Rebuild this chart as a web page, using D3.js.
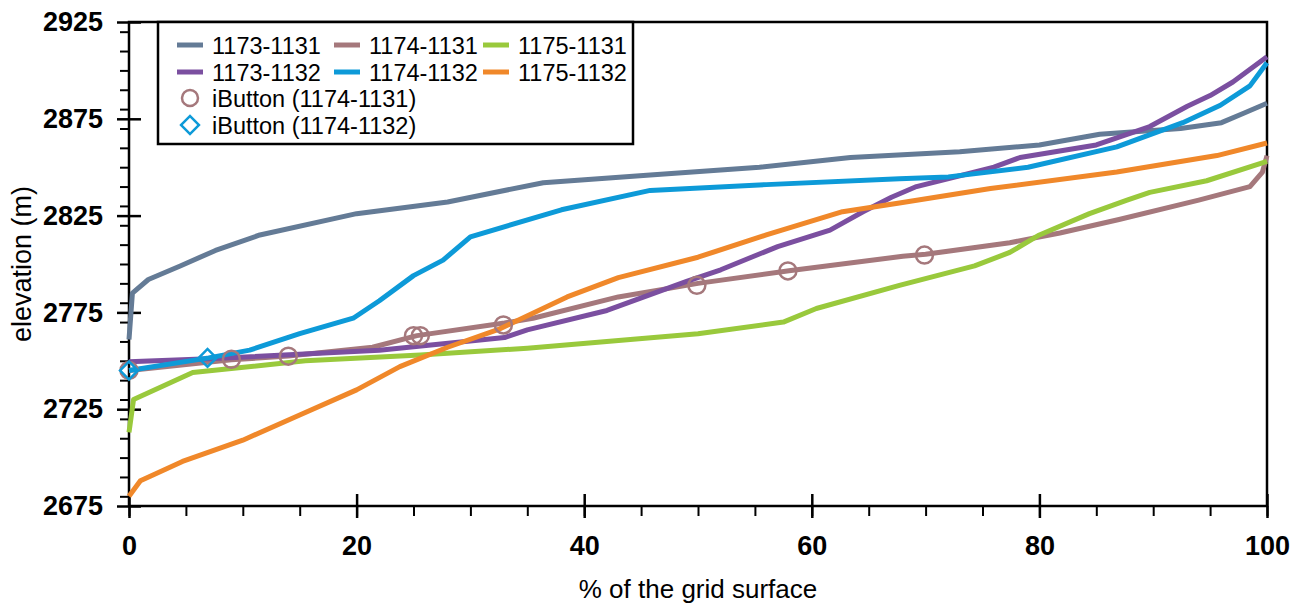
<!DOCTYPE html>
<html>
<head>
<meta charset="utf-8">
<script src="https://cdn.jsdelivr.net/npm/d3@7"></script>
<style>
  body { margin: 0; background: #fff; }
  svg { font-family: "Liberation Sans", Arial, sans-serif; }
</style>
</head>
<body>
<div id="chart"></div>
<script>
// hypsometric curves, % of grid surface vs elevation
var seriesNames = ["1173-1131", "1174-1131", "1175-1131", "1173-1132", "1174-1132", "1175-1132"];
var seriesColors = ["#647b96", "#a5787c", "#99c93c", "#7b4fa0", "#0d9ad8", "#f0882a"];

var s1173_1131 = [[0,2761],[0.3,2785],[1.7,2792],[4.5,2799],[7.6,2807],[11.5,2815],[20,2826],[28,2832],[36.4,2842],[45.8,2846],[55.4,2850],[63.4,2855],[73,2858],[80,2861.5],[85.3,2867],[92.4,2870],[96,2873],[98,2878],[100,2883]];
var s1174_1131 = [[0,2745],[9,2750.5],[14,2752.5],[21.4,2757],[25.3,2763],[33,2769.5],[35.5,2772],[43,2783],[50,2790],[58,2796.5],[68,2804],[70,2805],[77.4,2811],[81.8,2816],[87,2823],[94,2833],[98.5,2840],[99.6,2847.5],[100,2856]];
var s1175_1131 = [[0,2713],[0.4,2730],[5.6,2744],[9,2746],[15.5,2750],[25.6,2753],[35,2756.5],[50,2764],[57.5,2770],[60.4,2777],[67.7,2789],[74.3,2799],[77.4,2806],[80,2815],[84.4,2826],[87.7,2833],[89.7,2837],[94.7,2843],[100,2853]];
var s1173_1132 = [[0,2749.5],[7,2751],[22,2755.5],[33,2762],[35,2766],[42,2776],[49,2791],[52,2797],[57,2809],[61.6,2817.5],[64.5,2827],[67,2834.5],[69.2,2840],[76,2850],[78.3,2855],[85,2861.5],[89.7,2871],[93,2881.5],[95,2887],[97,2894],[100,2907]];
var s1174_1132 = [[0,2745],[7,2751.5],[10.6,2755.5],[15,2764],[19.7,2772],[22,2781],[25,2794],[27.6,2802],[30,2814],[38,2828],[45.8,2838],[56,2841],[67.7,2844],[72,2845],[79,2850],[86.8,2860.5],[92.6,2873],[95.9,2882],[98.5,2892],[100,2904]];
var s1175_1132 = [[0,2680],[1,2688],[2.3,2691.5],[4.7,2698],[10,2709],[15,2722],[20,2735],[23.8,2747],[28,2757],[32.6,2766.5],[38.5,2783],[43,2793],[50,2803.5],[56,2815],[62.7,2827],[67.7,2831.5],[75.7,2839],[86.8,2847.5],[95.6,2856],[100,2862.5]];

var ibutton1131 = [[0,2745],[9,2750.8],[14,2752.4],[25,2763],[25.6,2763],[32.9,2768.5],[49.9,2789],[57.9,2796.4],[69.9,2804.6]];
var ibutton1132 = [[0,2745],[6.9,2751.5]];

var xTicks = [0, 20, 40, 60, 80, 100];
var yTicks = [2675, 2725, 2775, 2825, 2875, 2925];

var allSeries = [s1173_1131, s1174_1131, s1175_1131, s1173_1132, s1174_1132, s1175_1132];

var width = 1307, height = 610;
var margin = {top: 22, right: 40, bottom: 104, left: 129};

var svg = d3.select("#chart")
  .append("svg")
    .attr("width", width)
    .attr("height", height);

var x = d3.scaleLinear().domain([0, 100]).range([margin.left, width - margin.right]);
var y = d3.scaleLinear().domain([2675, 2925]).range([height - margin.bottom, margin.top]);

// frame
svg.append("rect")
  .attr("x", x(0)).attr("y", y(2925))
  .attr("width", x(100) - x(0)).attr("height", y(2675) - y(2925))
  .attr("fill", "none").attr("stroke", "#000").attr("stroke-width", 2.5);

// minor ticks
svg.append("g")
  .attr("transform", "translate(0," + y(2675) + ")")
  .call(d3.axisBottom(x).ticks(20).tickSize(10).tickFormat(""))
  .call(function (g) { g.select(".domain").remove(); })
  .selectAll("line").attr("stroke-width", 2);

svg.append("g")
  .attr("transform", "translate(" + x(0) + ",0)")
  .call(d3.axisLeft(y).ticks(25).tickSize(9).tickFormat(""))
  .call(function (g) { g.select(".domain").remove(); })
  .selectAll("line").attr("stroke-width", 2);

// major ticks
var xAxis = svg.append("g")
  .attr("transform", "translate(0," + y(2675) + ")")
  .call(d3.axisBottom(x).tickValues(xTicks).tickSize(12).tickPadding(18));
xAxis.select(".domain").remove();
xAxis.selectAll("line").attr("y1", -12).attr("stroke-width", 2.5);
xAxis.selectAll("text")
  .attr("font-size", 27).attr("font-weight", "bold").attr("fill", "#000")
  .attr("font-family", "Liberation Sans, Arial, sans-serif");

var yAxis = svg.append("g")
  .attr("transform", "translate(" + x(0) + ",0)")
  .call(d3.axisLeft(y).tickValues(yTicks).tickSize(12).tickPadding(14).tickFormat(d3.format("d")));
yAxis.select(".domain").remove();
yAxis.selectAll("line").attr("x1", 12).attr("stroke-width", 2.5);
yAxis.selectAll("text")
  .attr("font-size", 27).attr("font-weight", "bold").attr("fill", "#000")
  .attr("font-family", "Liberation Sans, Arial, sans-serif");

// axis titles
svg.append("text")
  .attr("x", (x(0) + x(100)) / 2).attr("y", 598)
  .attr("text-anchor", "middle").attr("font-size", 26)
  .text("% of the grid surface");

svg.append("text")
  .attr("transform", "translate(31," + (y(2675) + y(2925)) / 2 + ") rotate(-90)")
  .attr("text-anchor", "middle").attr("font-size", 27)
  .text("elevation (m)");

// lines
var line = d3.line().x(function (d) { return x(d[0]); }).y(function (d) { return y(d[1]); });

svg.append("g").selectAll("path")
  .data(allSeries)
  .enter()
    .append("path")
      .attr("d", line)
      .attr("fill", "none")
      .attr("stroke", function (d, i) { return seriesColors[i]; })
      .attr("stroke-width", 5)
      .attr("stroke-linejoin", "round");

// iButton markers
svg.append("g").selectAll("circle")
  .data(ibutton1131)
  .enter()
    .append("circle")
      .attr("cx", function (d) { return x(d[0]); })
      .attr("cy", function (d) { return y(d[1]); })
      .attr("r", 8.5)
      .attr("fill", "none").attr("stroke", seriesColors[1]).attr("stroke-width", 2.5);

var diamond = d3.symbol().type(d3.symbolSquare).size(160);
svg.append("g").selectAll("path")
  .data(ibutton1132)
  .enter()
    .append("path")
      .attr("d", diamond)
      .attr("transform", function (d) { return "translate(" + x(d[0]) + "," + y(d[1]) + ") rotate(45)"; })
      .attr("fill", "none").attr("stroke", seriesColors[4]).attr("stroke-width", 2.5);

// legend
var legend = svg.append("g");
legend.append("rect")
  .attr("x", 158).attr("y", 22).attr("width", 475).attr("height", 122)
  .attr("fill", "#fff").attr("stroke", "#000").attr("stroke-width", 2.5);

var colX = [177, 334, 483];
var rowY = [45, 72, 98, 125];

seriesNames.forEach(function (name, i) {
  var cx = colX[i % 3], cy = rowY[Math.floor(i / 3)];
  legend.append("line")
    .attr("x1", cx).attr("x2", cx + 26).attr("y1", cy).attr("y2", cy)
    .attr("stroke", seriesColors[i]).attr("stroke-width", 5);
  legend.append("text")
    .attr("x", cx + 35).attr("y", cy + 8.5).attr("font-size", 23.5)
    .text(name);
});

legend.append("circle")
  .attr("cx", 190).attr("cy", rowY[2]).attr("r", 8)
  .attr("fill", "none").attr("stroke", seriesColors[1]).attr("stroke-width", 2.5);
legend.append("text").attr("x", 212).attr("y", rowY[2] + 8.5).attr("font-size", 23.5)
  .text("iButton (1174-1131)");

legend.append("path")
  .attr("d", diamond)
  .attr("transform", "translate(190," + rowY[3] + ") rotate(45)")
  .attr("fill", "none").attr("stroke", seriesColors[4]).attr("stroke-width", 2.5);
legend.append("text").attr("x", 212).attr("y", rowY[3] + 8.5).attr("font-size", 23.5)
  .text("iButton (1174-1132)");
</script>
</body>
</html>
